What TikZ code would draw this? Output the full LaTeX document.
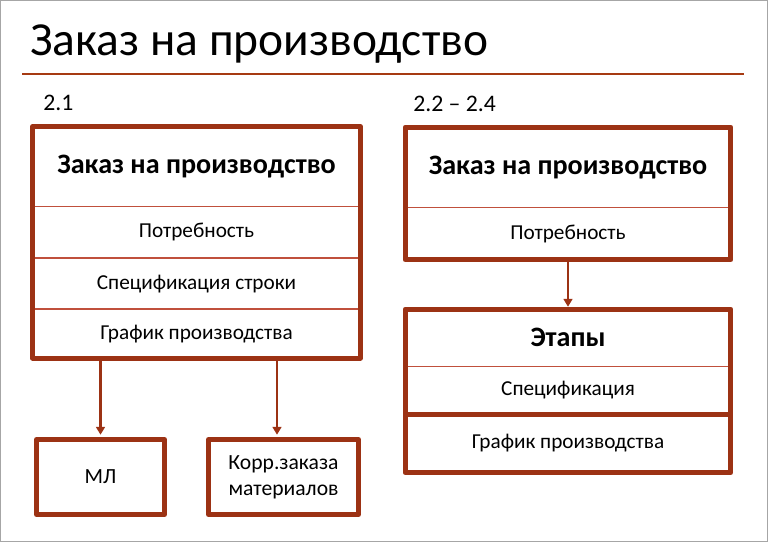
\documentclass[tikz,border=0pt]{standalone}
\usepackage{fontspec}
\setmainfont{Carlito}
\usetikzlibrary{arrows.meta}
\definecolor{rust}{RGB}{156,50,20}
\definecolor{rustthin}{RGB}{192,80,60}

\tikzset{
	row/.style={draw=rustthin,line width=0.5pt,inner sep=0pt,align=center,
		minimum width=#1,font=\fontsize{12.1}{14}\selectfont},
	headrow/.style={row=#1,font=\fontsize{16}{19}\selectfont\bfseries},
	frame/.style={draw=rust,line width=2.8pt,line join=round},
	box/.style={frame,inner sep=0pt,align=center,font=\fontsize{12.3}{14.8}\selectfont},
	arr/.style={draw=rust,line width=1.2pt,-{Triangle[length=4.5pt,width=5pt]},shorten >=1.3pt},
}

\begin{document}
\begin{tikzpicture}[x=0.02cm,y=-0.02cm]
	\useasboundingbox (0,0) rectangle (768,542);
	\draw[gray!70,line width=0.8pt] (0.5,0.5) rectangle (767.5,541.5);
	
	% title
	\node[anchor=base west,inner sep=0pt,font=\fontsize{27}{31}\selectfont] (title) at (30,55) {Заказ на производство};
	\draw[rust!90!orange,line width=1.7pt] (22,74) -- (744,74);
	
	\node[anchor=base west,inner sep=0pt,font=\fontsize{13.5}{16}\selectfont] (lab1) at (43,110) {2.1};
	\node[anchor=base west,inner sep=0pt,font=\fontsize{13.5}{16}\selectfont] (lab2) at (413,111) {2.2 – 2.4};
	
	% 2.1
	\node[headrow=6.54cm,minimum height=1.58cm] (lhead) at (196.5,166.5) {Заказ на производство};
	\node[row=6.54cm,minimum height=1.02cm,anchor=north] (lneed) at (lhead.south) {Потребность};
	\node[row=6.54cm,minimum height=1.0cm,anchor=north] (lspec) at (lneed.south) {Спецификация строки};
	\node[row=6.54cm,minimum height=0.96cm,anchor=north] (lgraph) at (lspec.south) {График производства};
	\draw[frame] (lhead.north west) rectangle (lgraph.south east);
	
	\node[box,minimum width=2.56cm,minimum height=1.5cm] (ml) at (100.5,477) {МЛ};
	\node[box,minimum width=3.0cm,minimum height=1.5cm] (korr) at (283.5,477) {Корр.заказа\\материалов};
	\coordinate (kx) at (277,0);
	
	\draw[arr] (lgraph.south -| ml.north) -- (ml.north);
	\draw[arr] (lgraph.south -| kx) -- (kx |- korr.north);
	
	% 2.2 - 2.4
	\node[headrow=6.5cm,minimum height=1.59cm] (rhead) at (568,167.25) {Заказ на производство};
	\node[row=6.5cm,minimum height=1.03cm,anchor=north] (rneed) at (rhead.south) {Потребность};
	\draw[frame] (rhead.north west) rectangle (rneed.south east);
	
	\node[headrow=6.5cm,minimum height=1.13cm] (stage) at (568,337.75) {Этапы};
	\node[row=6.5cm,minimum height=0.94cm,anchor=north] (rspec) at (stage.south) {Спецификация};
	\node[row=6.5cm,minimum height=1.15cm,anchor=north] (rgraph) at (rspec.south) {График производства};
	\draw[frame] (stage.north west) rectangle (rspec.south east);
	\draw[frame] (rgraph.north west) rectangle (rgraph.south east);
	
	\draw[arr] (rneed.south) -- (stage.north);
\end{tikzpicture}
\end{document}
